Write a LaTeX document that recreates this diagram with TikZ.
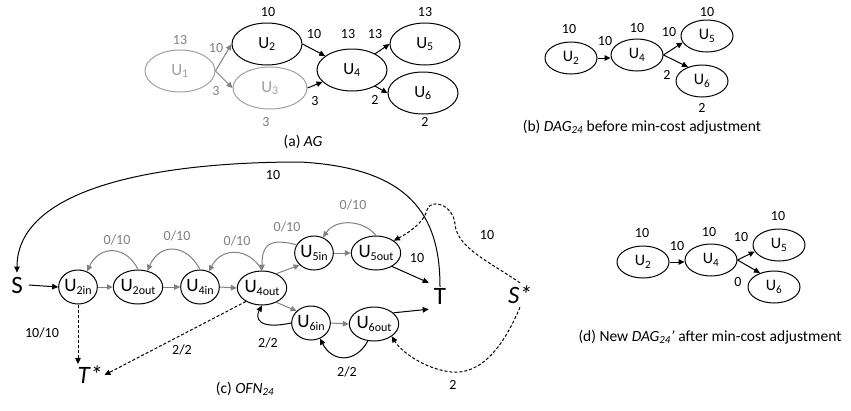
\documentclass[tikz,border=0pt]{standalone}
\usepackage{fontspec}
\setmainfont{Carlito}
\usetikzlibrary{arrows.meta,shapes.geometric}
\definecolor{lgray}{RGB}{160,160,160}
\definecolor{egray}{RGB}{128,128,128}
\newcommand{\fs}[1]{\fontsize{#1}{#1}\selectfont}
\newcommand{\Usub}[2]{U\raisebox{-0.35ex}{\fs{#1}#2}}
\begin{document}
\begin{tikzpicture}[x=1pt,y=-1pt,
  nd/.style={ellipse, draw, line width=1pt, inner sep=0pt},
  bigA/.style={nd, minimum width=70pt, minimum height=42pt, font=\fs{17}},
  midB/.style={nd, minimum width=52pt, minimum height=32pt, font=\fs{16}},
  smC/.style={nd, minimum width=38pt, minimum height=34pt, font=\fs{19}},
  grn/.style={draw=lgray, text=lgray},
  lab/.style={font=\fs{14}, inner sep=0pt},
  glab/.style={lab, text=egray},
  big/.style={font=\fs{25}, inner sep=0pt},
  capt/.style={font=\fs{15.5}, inner sep=0pt},
  arr/.style={-{Triangle[length=6pt,width=5.5pt]}, line width=1pt},
  garr/.style={arr, draw=egray},
  darr/.style={arr, dash pattern=on 3pt off 2pt},
]
\useasboundingbox (0,0) rectangle (851,410);
% ---------- (a)
\node[bigA, grn] (aU1) at (180,71) {U\textsubscript{1}};
\node[bigA] (aU2) at (267,44) {U\textsubscript{2}};
\node[bigA, grn, minimum width=74pt] (aU3) at (270,88) {U\textsubscript{3}};
\node[bigA] (aU4) at (352,70) {U\textsubscript{4}};
\node[bigA] (aU5) at (425,44) {U\textsubscript{5}};
\node[bigA] (aU6) at (423,93) {U\textsubscript{6}};
\draw[garr] (aU1.east) -- (aU2.west);
\draw[garr] (aU1.east) -- (aU3.west);
\draw[arr] (aU2.east) -- (aU4);
\draw[arr] (aU3.east) -- (aU4);
\draw[arr] (aU4.35) -- (aU5.west);
\draw[arr] (aU4.-35) -- (aU6.west);
\node[glab] (la1) at (180,40) {13};
\node[lab] (la2) at (268,12) {10};
\node[glab] (la3) at (216,48) {10};
\node[glab] (la4) at (216,91) {3};
\node[glab] (la5) at (266,122) {3};
\node[lab] (la6) at (314,34) {10};
\node[lab] (la7) at (348,34) {13};
\node[lab] (la8) at (375,34) {13};
\node[lab] (la9) at (315,101) {3};
\node[lab] (la10) at (375,100) {2};
\node[lab] (la11) at (425,12) {13};
\node[lab] (la12) at (425,122) {2};
\node[capt] (capa) at (303,142) {(a) \textit{AG}};
% ---------- (b)
\node[midB] (bU2) at (571,58) {U\textsubscript{2}};
\node[midB] (bU4) at (637,55) {U\textsubscript{4}};
\node[midB] (bU5) at (707,36) {U\textsubscript{5}};
\node[midB] (bU6) at (702,81) {U\textsubscript{6}};
\draw[arr] (bU2.east) -- (bU4.west |- bU2.east);
\draw[arr] (bU4.east) -- (bU5.195);
\draw[arr] (bU4.east) -- (bU6.135);
\node[lab] (lb1) at (569,29) {10};
\node[lab] (lb2) at (605,41) {10};
\node[lab] (lb3) at (637,28) {10};
\node[lab] (lb4) at (669,32) {10};
\node[lab] (lb5) at (707,12) {10};
\node[lab] (lb6) at (667,75) {2};
\node[lab] (lb7) at (702,108) {2};
\node[capt] (capb) at (642,127) {(b) \textit{DAG\textsubscript{24}} before min-cost adjustment};
% ---------- (d)
\node[midB] (dU2) at (643,262) {U\textsubscript{2}};
\node[midB] (dU4) at (711,260) {U\textsubscript{4}};
\node[midB] (dU5) at (779,245) {U\textsubscript{5}};
\node[midB] (dU6) at (774,287) {U\textsubscript{6}};
\draw[arr] (dU2.east) -- (dU4.west |- dU2.east);
\draw[arr] (dU4.east) -- (dU5.195);
\draw[arr] (dU4.east) -- (dU6.135);
\node[lab] (ld1) at (642,233) {10};
\node[lab] (ld2) at (677,246) {10};
\node[lab] (ld3) at (709,232) {10};
\node[lab] (ld4) at (741,237) {10};
\node[lab] (ld5) at (778,216) {10};
\node[lab] (ld6) at (738,282) {0};
\node[capt] (capd) at (710,337) {(d) New \textit{DAG\textsubscript{24}’} after min-cost adjustment};
% ---------- (c)
\node[big] (S) at (17,285) {S};
\node[smC] (U2in) at (78,287) {\Usub{12}{2in}};
\node[smC] (U2out) at (138,287) {\Usub{12}{2out}};
\node[smC] (U4in) at (200,287) {\Usub{12}{4in}};
\node[smC] (U4out) at (262,288) {\Usub{12}{4out}};
\node[smC] (U5in) at (314,253) {\Usub{12}{5in}};
\node[smC] (U5out) at (376,253) {\Usub{12}{5out}};
\node[smC] (U6in) at (311,323) {\Usub{12}{6in}};
\node[smC] (U6out) at (374,324) {\Usub{12}{6out}};
\node[big, inner sep=5pt] (T) at (440,296) {T};
\node[big, inner sep=3pt] (Ss) at (520,295) {\textit{S*}};
\node[big, inner sep=2pt] (Ts) at (90,375) {\textit{T*}};
% forward
\draw[arr] (S.east) ++(6,0) coordinate (s0) (s0) -- (U2in.west);
\draw[garr] (U2in.east) -- (U2out.west);
\draw[garr] (U2out.east) -- (U4in.west);
\draw[garr] (U4in.east) -- (U4out.west);
\draw[garr] (U4out.45) -- (U5in.220);
\draw[garr] (U4out.-45) -- (U6in.140);
\draw[garr] (U5in.east) -- (U5out.west);
\draw[garr] (U6in.east) -- (U6out.west);
% backward gray arcs
\draw[garr] (U2out.north) .. controls (127,246) and (100,244) .. (U2in.60);
\draw[garr] (U4in.north) .. controls (187,244) and (160,242) .. (U2out.60);
\draw[garr] (U4out.north) .. controls (250,248) and (222,246) .. (U4in.60);
\draw[garr] (U5in.155) .. controls (265,236) and (262,250) .. (U4out.north);
\draw[garr] (U5out.north) .. controls (364,220) and (336,218) .. (U5in.60);
% black
\draw[arr] (U5out.-40) -- (T.north west);
\draw[arr] (U6out.30) -- (T.south west);
\draw[arr] ([yshift=-4pt]T.north) .. controls (440,215) and (410,168) .. (300,162)
  .. controls (150,162) and (17,190) .. ([yshift=4pt]S.north);
\draw[arr] (U6in.west) .. controls (258,330) and (255,318) .. (U4out.south);
\draw[arr] (U6out.-110) .. controls (355,364) and (332,362) .. (U6in.-60);
% dashed
\draw[darr] (U2in.south) -- (U2in.south |- Ts.north);
\draw[darr] (U4out.220) -- (Ts.east);
\draw[darr] (Ss.north) .. controls (490,262) and (457,248) .. (455,224)
  .. controls (453,204) and (430,198) .. (427,210)
  .. controls (424,222) and (410,232) .. (U5out.north east);
\draw[darr] (Ss.south) .. controls (500,355) and (475,378) .. (445,371)
  .. controls (420,366) and (400,350) .. (U6out.south east);
% labels (c)
\node[glab] (lc1) at (117,240) {0/10};
\node[glab] (lc2) at (177,236) {0/10};
\node[glab] (lc3) at (237,241) {0/10};
\node[glab] (lc4) at (287,227) {0/10};
\node[glab] (lc5) at (353,205) {0/10};
\node[lab] (lc6) at (273,175) {10};
\node[lab] (lc7) at (417,258) {10};
\node[lab] (lc8) at (487,235) {10};
\node[lab] (lc9) at (42,333) {10/10};
\node[lab] (lc10) at (182,350) {2/2};
\node[lab] (lc11) at (268,343) {2/2};
\node[lab] (lc12) at (347,372) {2/2};
\node[lab] (lc13) at (453,385) {2};
\node[capt] (capc) at (245,389) {(c) \textit{OFN\textsubscript{24}}};
\end{tikzpicture}
\end{document}
